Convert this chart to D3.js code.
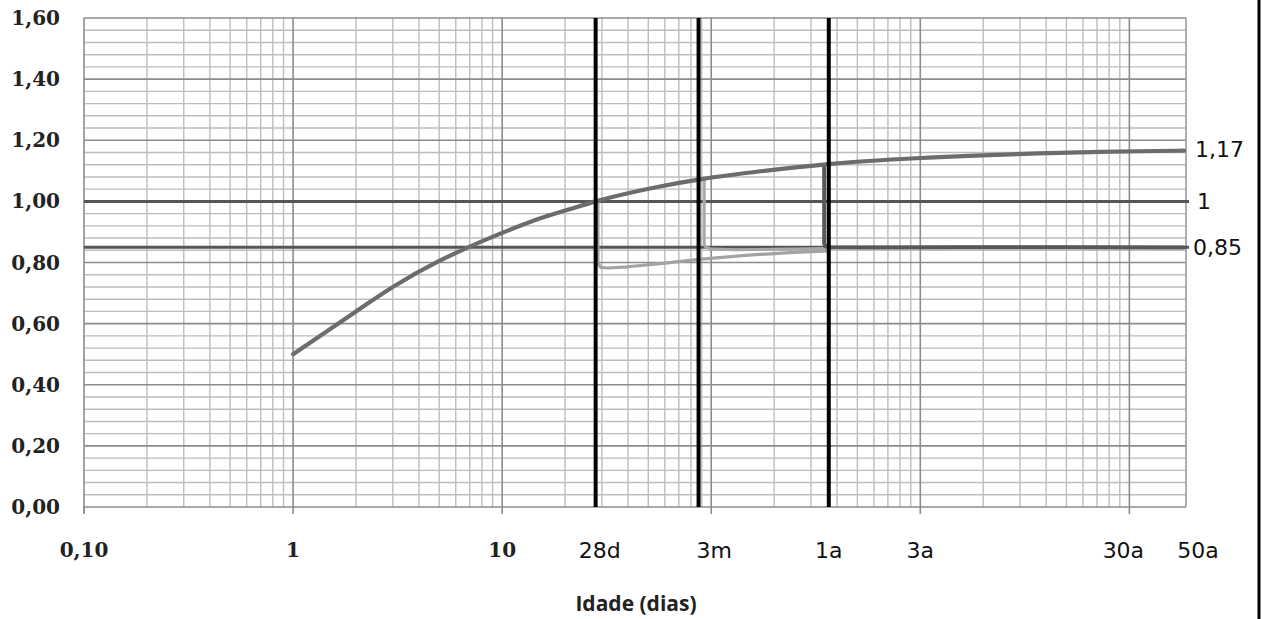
<!DOCTYPE html>
<html>
<head>
<meta charset="utf-8">
<script src="https://cdn.jsdelivr.net/npm/d3@7/dist/d3.min.js"></script>
<style>
  html, body { margin: 0; padding: 0; background: #fff; }
  svg { display: block; }
</style>
</head>
<body>
<svg id="chart" width="1263" height="619"></svg>
<script>
// ---------- data ----------
const ages = [1, 2, 3, 5, 7, 10, 14, 21, 28, 42, 56, 90, 180, 365, 730, 1095, 1825, 3650, 7300, 10950, 18250];
const ratioMain = [0.50, 0.64, 0.72, 0.805, 0.852, 0.897, 0.936, 0.974, 1.00, 1.03, 1.048, 1.073, 1.10, 1.122, 1.137, 1.143, 1.15, 1.157, 1.162, 1.164, 1.166];

const ages28d = [28.7, 28.7, 29.5, 32, 40, 60, 90, 150, 250, 365];
const ratio28d = [1.00, 0.80, 0.784, 0.782, 0.786, 0.798, 0.811, 0.824, 0.833, 0.838];

const ages3m = [92.6, 92.6, 94, 100, 130, 200, 300, 365];
const ratio3m = [1.075, 0.862, 0.85, 0.844, 0.842, 0.843, 0.845, 0.846];

const ages1a = [347, 347, 352, 370, 600, 1500, 5000, 18250];
const ratio1a = [1.118, 0.862, 0.853, 0.85, 0.849, 0.85, 0.85, 0.849];

const refLevels = [1.0, 0.85];
const refLabels = ["1", "0,85"];
const endLabel = "1,17";
const endValue = 1.17;

const markerAges = [28, 87, 365];

const yTicks = [0, 0.2, 0.4, 0.6, 0.8, 1.0, 1.2, 1.4, 1.6];
const yTickLabels = ["0,00", "0,20", "0,40", "0,60", "0,80", "1,00", "1,20", "1,40", "1,60"];

const xNumTicks = [0.1, 1, 10];
const xNumLabels = ["0,10", "1", "10"];
const xTextTicks = [28, 100, 365, 1000, 10000, 18250];
const xTextLabels = ["28d", "3m", "1a", "3a", "30a", "50a"];
const xTextOffsets = [4, 3, 0, 0, -6, 14];

const xTitle = "Idade (dias)";

// ---------- layout ----------
const pLeft = 84, pRight = 1184, pTop = 18, pBottom = 507;
const svg = d3.select("#chart");

const x = d3.scaleLog().domain([0.1, 18250]).range([pLeft, pRight]);
const y = d3.scaleLinear().domain([0, 1.6]).range([pBottom, pTop]);

const gridRight = 1186;

// minor vertical grid
const minorX = [];
for (let dec = 0.1; dec < 20000; dec *= 10) {
  for (let k = 2; k <= 9; k++) {
    const v = dec * k;
    if (v < 18250) minorX.push(v);
  }
}
const majorX = [1, 10, 100, 1000, 10000];

const g = svg.append("g");

// horizontal minor grid (every 0.04)
const minorY = d3.range(0, 1.6001, 0.04).filter(v => Math.abs(Math.round(v / 0.2) * 0.2 - v) > 1e-6);
g.selectAll("line.hminor").data(minorY).enter().append("line")
  .attr("x1", pLeft).attr("x2", gridRight)
  .attr("y1", d => y(d)).attr("y2", d => y(d))
  .attr("stroke", "#bdbdbd").attr("stroke-width", 1.4);

g.selectAll("line.vminor").data(minorX).enter().append("line")
  .attr("x1", d => x(d)).attr("x2", d => x(d))
  .attr("y1", pTop).attr("y2", pBottom)
  .attr("stroke", "#bdbdbd").attr("stroke-width", 1.4);

g.selectAll("line.hmajor").data(yTicks).enter().append("line")
  .attr("x1", pLeft).attr("x2", gridRight)
  .attr("y1", d => y(d)).attr("y2", d => y(d))
  .attr("stroke", "#8c8c8c").attr("stroke-width", 1.6);

g.selectAll("line.vmajor").data(majorX).enter().append("line")
  .attr("x1", d => x(d)).attr("x2", d => x(d))
  .attr("y1", pTop).attr("y2", pBottom)
  .attr("stroke", "#8c8c8c").attr("stroke-width", 1.6);

// plot frame
g.append("line").attr("x1", pLeft).attr("x2", pLeft).attr("y1", pTop).attr("y2", pBottom + 6)
  .attr("stroke", "#8c8c8c").attr("stroke-width", 1.6);
g.append("line").attr("x1", gridRight).attr("x2", gridRight).attr("y1", pTop).attr("y2", pBottom)
  .attr("stroke", "#9a9a9a").attr("stroke-width", 1.6);

// tick marks below the x axis
g.selectAll("line.xtick").data([0.1, 1, 10, 100, 1000, 10000]).enter().append("line")
  .attr("x1", d => x(d)).attr("x2", d => x(d))
  .attr("y1", pBottom).attr("y2", pBottom + 7)
  .attr("stroke", "#8c8c8c").attr("stroke-width", 1.6);

// reference lines
g.selectAll("line.ref").data(refLevels).enter().append("line")
  .attr("x1", pLeft).attr("x2", 1189)
  .attr("y1", d => y(d)).attr("y2", d => y(d))
  .attr("stroke", "#555").attr("stroke-width", 3);

// curves
const line = d3.line().x(d => x(d[0])).y(d => y(d[1]));
const mainLine = d3.line().x(d => x(d[0])).y(d => y(d[1])).curve(d3.curveMonotoneX);

g.append("path").datum(d3.zip(ages28d, ratio28d)).attr("d", line)
  .attr("fill", "none").attr("stroke", "#a3a3a3").attr("stroke-width", 3.2)
  .attr("stroke-linejoin", "round").attr("stroke-linecap", "round");

g.append("path").datum(d3.zip(ages3m, ratio3m)).attr("d", line)
  .attr("fill", "none").attr("stroke", "#a8a8a8").attr("stroke-width", 3)
  .attr("stroke-linejoin", "round").attr("stroke-linecap", "round");

g.append("path").datum(d3.zip(ages1a, ratio1a)).attr("d", line)
  .attr("fill", "none").attr("stroke", "#585858").attr("stroke-width", 4)
  .attr("stroke-linejoin", "round").attr("stroke-linecap", "round");

g.append("path").datum(d3.zip(ages, ratioMain)).attr("d", mainLine)
  .attr("fill", "none").attr("stroke", "#6c6c6c").attr("stroke-width", 4.2)
  .attr("stroke-linejoin", "round").attr("stroke-linecap", "round");

// black age markers
g.selectAll("line.marker").data(markerAges).enter().append("line")
  .attr("x1", d => x(d)).attr("x2", d => x(d))
  .attr("y1", pTop).attr("y2", pBottom)
  .attr("stroke", "#000").attr("stroke-width", 4);

// y-axis labels
g.selectAll("text.ylab").data(yTicks).enter().append("text")
  .attr("x", 60).attr("y", d => y(d) + 7)
  .attr("text-anchor", "end")
  .attr("font-family", "'DejaVu Serif', serif").attr("font-weight", "bold")
  .attr("font-size", 20).attr("fill", "#222")
  .text((d, i) => yTickLabels[i]);

// numeric x labels
g.selectAll("text.xnum").data(xNumTicks).enter().append("text")
  .attr("x", d => x(d)).attr("y", 557)
  .attr("text-anchor", "middle")
  .attr("font-family", "'DejaVu Serif', serif").attr("font-weight", "bold")
  .attr("font-size", 20).attr("fill", "#222")
  .text((d, i) => xNumLabels[i]);

// age x labels
g.selectAll("text.xage").data(xTextTicks).enter().append("text")
  .attr("x", (d, i) => x(d) + xTextOffsets[i]).attr("y", 558)
  .attr("text-anchor", "middle")
  .attr("font-family", "'DejaVu Sans', sans-serif")
  .attr("font-size", 22).attr("fill", "#111")
  .text((d, i) => xTextLabels[i]);

// right-side labels
g.append("text").attr("x", 1195).attr("y", y(endValue) + 8)
  .attr("font-family", "'DejaVu Sans', sans-serif").attr("font-size", 22).attr("fill", "#111")
  .text(endLabel);
g.selectAll("text.ref").data(refLevels).enter().append("text")
  .attr("x", (d, i) => i === 0 ? 1197 : 1193).attr("y", d => y(d) + 8)
  .attr("font-family", "'DejaVu Sans', sans-serif").attr("font-size", 22).attr("fill", "#111")
  .text((d, i) => refLabels[i]);

// axis title
g.append("text").attr("x", 636).attr("y", 611)
  .attr("text-anchor", "middle")
  .attr("font-family", "'Open Sans', sans-serif").attr("font-weight", "bold")
  .attr("font-size", 21).attr("fill", "#222")
  .text(xTitle);

// right border
g.append("line").attr("x1", 1259).attr("x2", 1259).attr("y1", 0).attr("y2", 619)
  .attr("stroke", "#000").attr("stroke-width", 3);
</script>
</body>
</html>
